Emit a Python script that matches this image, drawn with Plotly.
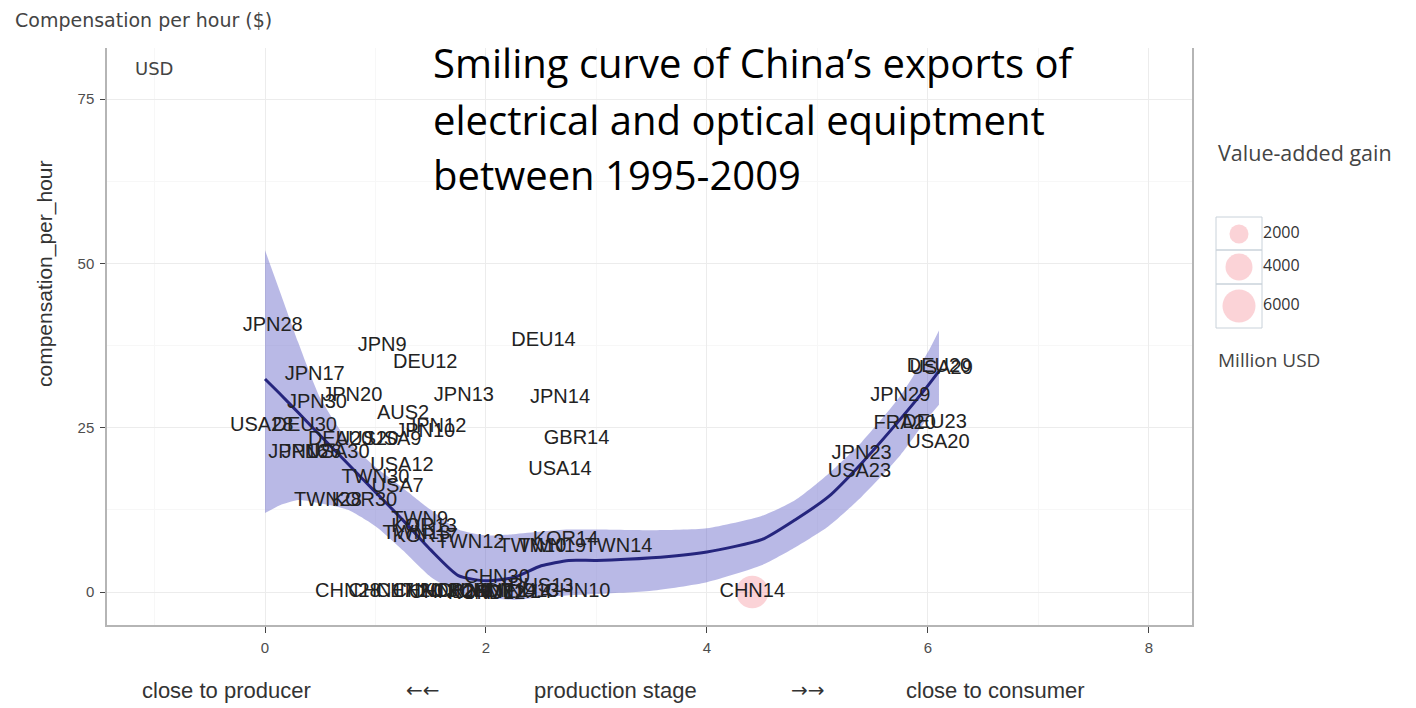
import plotly.graph_objects as go

W, H = 1416, 708
PL, PR, PT, PB = 107, 1192, 48, 625   # panel box in pixels

# ---------------- data ----------------
labels = ["JPN28", "JPN9", "DEU12", "DEU14", "JPN17", "JPN20", "JPN30", "JPN13", "JPN14",
          "AUS2", "JPN12", "JPN10", "USA28", "DEU30", "DEU20", "AUS20", "USA9",
          "JPN16", "JPN26", "USA30", "USA12", "TWN30", "USA7", "TWN28", "KOR30",
          "TWN9", "KOR13", "TWN13", "KOR17", "TWN12", "TWN10", "TWN19", "KOR14", "TWN14",
          "CHN28", "CHN17", "CHN20", "CHN13", "CHN12", "KOR28", "CHN9", "KOR7", "CHN7",
          "IND12", "IDN14", "MEX14", "IND13", "CHN10", "CHN30", "RUS13",
          "GBR14", "USA14", "CHN14",
          "DEU20", "USA29", "JPN29", "FRA20", "DEU23", "USA20", "JPN23", "USA23"]
label_x = [0.07, 1.06, 1.45, 2.52, 0.45, 0.79, 0.47, 1.80, 2.67,
           1.25, 1.55, 1.45, -0.03, 0.36, 0.68, 0.92, 1.18,
           0.30, 0.42, 0.66, 1.24, 1.00, 1.20, 0.57, 0.90,
           1.40, 1.44, 1.37, 1.45, 1.86, 2.42, 2.60, 2.72, 3.20,
           0.75, 1.05, 1.30, 1.45, 1.60, 1.70, 1.80, 1.90, 2.00,
           2.10, 2.20, 2.30, 2.40, 2.83, 2.10, 2.50,
           2.82, 2.67, 4.41,
           6.10, 6.12, 5.75, 5.79, 6.06, 6.09, 5.40, 5.38]
label_y = [40.5, 37.4, 34.8, 38.2, 33.0, 29.8, 28.8, 29.8, 29.5,
           27.1, 25.1, 24.3, 25.2, 25.2, 23.1, 23.1, 23.1,
           21.1, 21.1, 21.1, 19.2, 17.4, 15.9, 13.9, 13.9,
           11.0, 9.9, 8.8, 8.3, 7.4, 6.8, 6.8, 7.9, 6.8,
           0.0, 0.0, 0.0, 0.0, -0.2, 0.0, 0.0, -0.3, 0.0,
           -0.3, 0.0, -0.2, 0.0, 0.0, 2.2, 0.8,
           23.3, 18.5, 0.0,
           34.3, 33.9, 29.8, 25.6, 25.7, 22.6, 21.0, 18.2]

# loess smooth with confidence band
smooth_x = [0.0, 0.15, 0.3, 0.5, 0.75, 1.0, 1.25, 1.5, 1.75, 2.0, 2.25, 2.5, 2.75, 3.0,
            3.5, 4.0, 4.5, 4.8, 5.1, 5.4, 5.75, 6.0, 6.1]
smooth_fit = [32.4, 29.9, 27.3, 23.8, 19.5, 15.2, 10.9, 6.4, 2.5, 1.7, 2.2, 4.0, 4.8, 4.8,
              5.2, 6.1, 8.0, 11.0, 14.5, 19.6, 26.3, 31.4, 33.6]
smooth_hi = [52.0, 45.0, 38.0, 29.5, 23.0, 19.0, 15.8, 12.5, 9.5, 8.6, 8.8, 9.2, 9.5, 9.5,
             9.4, 9.7, 11.6, 14.0, 18.0, 22.8, 29.8, 36.5, 39.8]
smooth_lo = [12.0, 13.3, 14.0, 13.5, 12.5, 10.0, 6.3, 2.3, 0.0, -0.8, -1.2, -0.8, -0.5, -0.3,
             0.2, 1.5, 4.1, 6.8, 10.0, 14.5, 20.8, 26.5, 28.5]

bubble_x = [4.41]
bubble_y = [0.0]
bubble_value = [5800]          # value-added gain, million USD

legend_values = [2000, 4000, 6000]
legend_labels = ["2000", "4000", "6000"]

x_ticks = [0, 2, 4, 6, 8]
y_ticks = [0, 25, 50, 75]

# ---------------- styles ----------------
PINK = "rgba(245,150,160,0.6)"
MAXPX = 33
sizeref = 2.0 * max(legend_values) / (MAXPX ** 2)

fig = go.Figure()

fig.add_trace(go.Scatter(x=smooth_x, y=smooth_hi, mode="lines",
                         line=dict(width=0, shape="spline", smoothing=0.6),
                         hoverinfo="skip", showlegend=False))
fig.add_trace(go.Scatter(x=smooth_x, y=smooth_lo, mode="lines",
                         line=dict(width=0, shape="spline", smoothing=0.6),
                         fill="tonexty", fillcolor="rgba(100,100,200,0.45)",
                         hoverinfo="skip", showlegend=False))
fig.add_trace(go.Scatter(x=smooth_x, y=smooth_fit, mode="lines",
                         line=dict(color="#25257d", width=3, shape="spline", smoothing=0.6),
                         showlegend=False))
fig.add_trace(go.Scatter(x=bubble_x, y=bubble_y, mode="markers",
                         marker=dict(size=bubble_value, sizemode="area", sizeref=sizeref,
                                     color=PINK, line=dict(width=0)),
                         showlegend=False, cliponaxis=False))
fig.add_trace(go.Scatter(x=label_x, y=label_y, mode="text", text=labels,
                         textposition="middle center",
                         textfont=dict(family="Liberation Sans, Arial", size=20, color="#222222"),
                         showlegend=False, cliponaxis=False))

# legend keys drawn on a full-figure, pixel-mapped helper subplot
key_px_x = 1239
key_px_y = [234, 267, 306]
fig.add_trace(go.Scatter(x=[key_px_x] * 3, y=key_px_y, mode="markers",
                         marker=dict(size=legend_values, sizemode="area", sizeref=sizeref,
                                     color=PINK, line=dict(width=0)),
                         xaxis="x2", yaxis="y2", showlegend=False, cliponaxis=False))
fig.add_trace(go.Scatter(x=[1263] * 3, y=key_px_y, mode="text", text=legend_labels,
                         textposition="middle right",
                         textfont=dict(family="Open Sans", size=16, color="#333333"),
                         xaxis="x2", yaxis="y2", showlegend=False, cliponaxis=False))

xr = [-1.43, 8.39]
yr = [-5.02, 82.76]

fig.update_layout(
    width=W, height=H,
    margin=dict(l=0, r=0, t=0, b=0),
    paper_bgcolor="white", plot_bgcolor="rgba(0,0,0,0)",
    showlegend=False,
    xaxis=dict(domain=[PL / W, PR / W], range=xr, tickvals=x_ticks,
               ticktext=[str(v) for v in x_ticks],
               showgrid=True, gridcolor="#ececec", gridwidth=1,
               minor=dict(dtick=1, tick0=0, showgrid=True, gridcolor="#f7f7f7"),
               zeroline=False, showline=True, linecolor="#b5b5b5", linewidth=1.5, mirror=False,
               ticks="outside", ticklen=6, tickcolor="#444", tickwidth=1,
               ticklabelstandoff=2,
               tickfont=dict(family="Liberation Sans, Arial", size=15, color="#4d4d4d"),
               automargin=False, fixedrange=True),
    yaxis=dict(domain=[1 - PB / H, 1 - PT / H], range=yr, tickvals=y_ticks,
               ticktext=[str(v) for v in y_ticks],
               showgrid=True, gridcolor="#ececec", gridwidth=1,
               minor=dict(dtick=12.5, tick0=0, showgrid=True, gridcolor="#f7f7f7"),
               zeroline=False, showline=True, linecolor="#b5b5b5", linewidth=1.5, mirror=True,
               ticks="outside", ticklen=5, tickcolor="#444", tickwidth=1,
               ticklabelstandoff=3,
               tickfont=dict(family="Liberation Sans, Arial", size=15, color="#4d4d4d"),
               automargin=False, fixedrange=True),
    xaxis2=dict(domain=[0, 1], anchor="y2", range=[0, W], visible=False, fixedrange=True),
    yaxis2=dict(domain=[0, 1], anchor="x2", range=[H, 0], visible=False, fixedrange=True),
)

# legend key boxes (decoration)
for top, bot in [(217, 250), (250, 284), (284, 328)]:
    fig.add_shape(type="rect", xref="paper", yref="paper",
                  x0=1216 / W, x1=1262 / W, y0=1 - bot / H, y1=1 - top / H,
                  line=dict(color="#c9d2da", width=1), fillcolor="rgba(0,0,0,0)", layer="below")


def ann(text, px, py, size, family="Open Sans", color="#333", xanchor="center", angle=0):
    fig.add_annotation(text=text, x=px / W, y=1 - py / H, xref="paper", yref="paper",
                       showarrow=False, xanchor=xanchor, yanchor="middle", textangle=angle,
                       font=dict(family=family, size=size, color=color))


ann("Compensation per hour ($)", 13, 20, 19, family="DejaVu Sans", xanchor="left", color="#444")
ann("USD", 133, 68, 18, family="DejaVu Sans", xanchor="left", color="#444")
ann("compensation_per_hour", 45, 274, 21, family="Liberation Sans, Arial", angle=-90)

ann("Smiling curve of China’s exports of", 431, 62, 40, color="black", xanchor="left")
ann("electrical and optical equiptment", 431, 119, 40, color="black", xanchor="left")
ann("between 1995-2009", 431, 175, 40, color="black", xanchor="left")

ann("Value-added gain", 1216, 153, 21.5, xanchor="left", color="#444")
ann("Million USD", 1216, 360, 19, xanchor="left", color="#444")

ann("close to producer", 226, 690, 22, family="Liberation Sans, Arial")
ann("←←", 423, 690, 20, family="DejaVu Sans")
ann("production stage", 615, 690, 22, family="Liberation Sans, Arial")
ann("→→", 808, 690, 20, family="DejaVu Sans")
ann("close to consumer", 995, 690, 22, family="Liberation Sans, Arial")

fig.write_html("out.html")
